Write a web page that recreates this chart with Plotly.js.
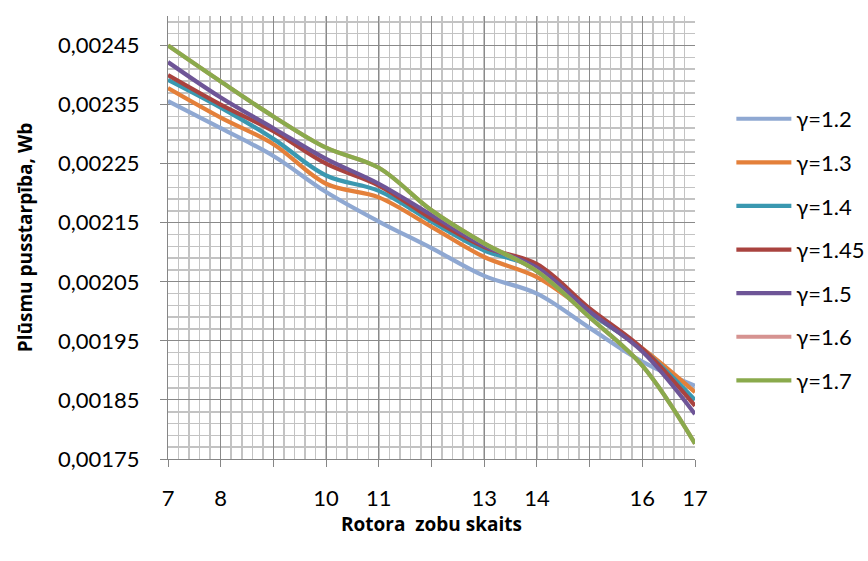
<!DOCTYPE html>
<html>
<head>
<meta charset="utf-8">
<script src="https://cdn.plot.ly/plotly-3.0.1.min.js"></script>
<style>html,body{margin:0;padding:0;background:#fff;}#chart{width:868px;height:561px;}</style>
</head>
<body>
<div id="chart"></div>
<script>
// Rotor teeth count (x categories)
const teeth = [7, 8, 9, 10, 11, 12, 13, 14, 15, 16, 17];
const tickText = ["7", "8", "", "10", "11", "", "13", "14", "", "16", "17"];

// Flux difference, Wb, per gamma
const g12  = [0.002356, 0.002310, 0.002263, 0.002202, 0.002152, 0.002107, 0.002060, 0.002030, 0.001972, 0.001915, 0.001874];
const g13  = [0.002378, 0.002328, 0.002283, 0.002216, 0.002193, 0.002143, 0.002092, 0.002058, 0.001997, 0.001937, 0.001863];
const g14  = [0.002392, 0.002345, 0.002292, 0.002230, 0.002204, 0.002152, 0.002103, 0.002073, 0.001998, 0.001936, 0.001850];
const g145 = [0.002400, 0.002350, 0.002305, 0.002250, 0.002213, 0.002157, 0.002109, 0.002080, 0.002005, 0.001937, 0.001840];
const g15  = [0.002422, 0.002362, 0.002310, 0.002258, 0.002216, 0.002163, 0.002111, 0.002074, 0.002000, 0.001932, 0.001826];
const g16  = [0.002450, 0.002389, 0.002330, 0.002277, 0.002243, 0.002171, 0.002115, 0.002068, 0.001990, 0.001908, 0.001776];
const g17  = [0.002450, 0.002389, 0.002330, 0.002277, 0.002243, 0.002171, 0.002115, 0.002068, 0.001990, 0.001908, 0.001776];

const seriesNames = ["γ=1.2", "γ=1.3", "γ=1.4", "γ=1.45", "γ=1.5", "γ=1.6", "γ=1.7"];
const seriesData = [g12, g13, g14, g145, g15, g16, g17];
const colors = ["#8FA8D2", "#E4803A", "#3A98B0", "#A9433F", "#6E5597", "#D69391", "#8AAA4C"];

const FONT = "Lato, 'Open Sans', sans-serif";
const TFONT = "'Open Sans', Lato, sans-serif";

const traces = seriesData.map((ys, i) => ({
  x: teeth,
  y: ys,
  type: "scatter",
  mode: "lines",
  name: seriesNames[i],
  legendgroup: "g" + i,
  line: {color: colors[i], width: 4.2, shape: "spline", smoothing: 1}
}));

const layout = {
  width: 868,
  height: 561,
  paper_bgcolor: "#ffffff",
  plot_bgcolor: "#ffffff",
  separators: ", ",
  margin: {l: 168, r: 173, t: 16, b: 102, autoexpand: false},
  font: {family: FONT, color: "#000000"},
  showlegend: true,
  legend: {
    x: 1.069, xanchor: "left", y: 0.815, yanchor: "top",
    font: {family: FONT, size: 22, color: "#000"},
    traceorder: "grouped",
    tracegroupgap: 12,
    itemwidth: 55,
    bgcolor: "rgba(0,0,0,0)"
  },
  xaxis: {
    range: [7, 17],
    tickmode: "array",
    tickvals: teeth,
    ticktext: tickText,
    ticks: "outside",
    ticklen: 7,
    tickcolor: "#868686",
    ticklabelstandoff: 13,
    tickfont: {family: FONT, size: 22, color: "#000"},
    showline: true,
    linecolor: "#868686",
    linewidth: 1,
    showgrid: true,
    gridcolor: "#8A8A8A",
    gridwidth: 1,
    zeroline: false,
    minor: {dtick: 0.2, tick0: 7, showgrid: true, gridcolor: "#C3C3C3", gridwidth: 1.5, ticks: ""},
    title: {text: "<b>Rotora  zobu skaits</b>", font: {family: TFONT, size: 19, color: "#000"}, standoff: 7}
  },
  yaxis: {
    range: [0.00175, 0.0025],
    tick0: 0.00175,
    dtick: 0.0001,
    tickformat: ".5f",
    ticks: "outside",
    ticklen: 7,
    tickcolor: "#868686",
    ticklabelstandoff: 16,
    tickfont: {family: FONT, size: 22, color: "#000"},
    showline: true,
    linecolor: "#868686",
    linewidth: 1,
    showgrid: true,
    gridcolor: "#8A8A8A",
    gridwidth: 1,
    zeroline: false,
    minor: {dtick: 0.00002, tick0: 0.00175, showgrid: true, gridcolor: "#C3C3C3", gridwidth: 1.5, ticks: ""},
    title: {text: "<b>Plūsmu pusstarpība, Wb</b>", font: {family: TFONT, size: 19, color: "#000"}, standoff: 20}
  }
};

Plotly.newPlot("chart", traces, layout, {displayModeBar: false, staticPlot: true});
</script>
</body>
</html>
